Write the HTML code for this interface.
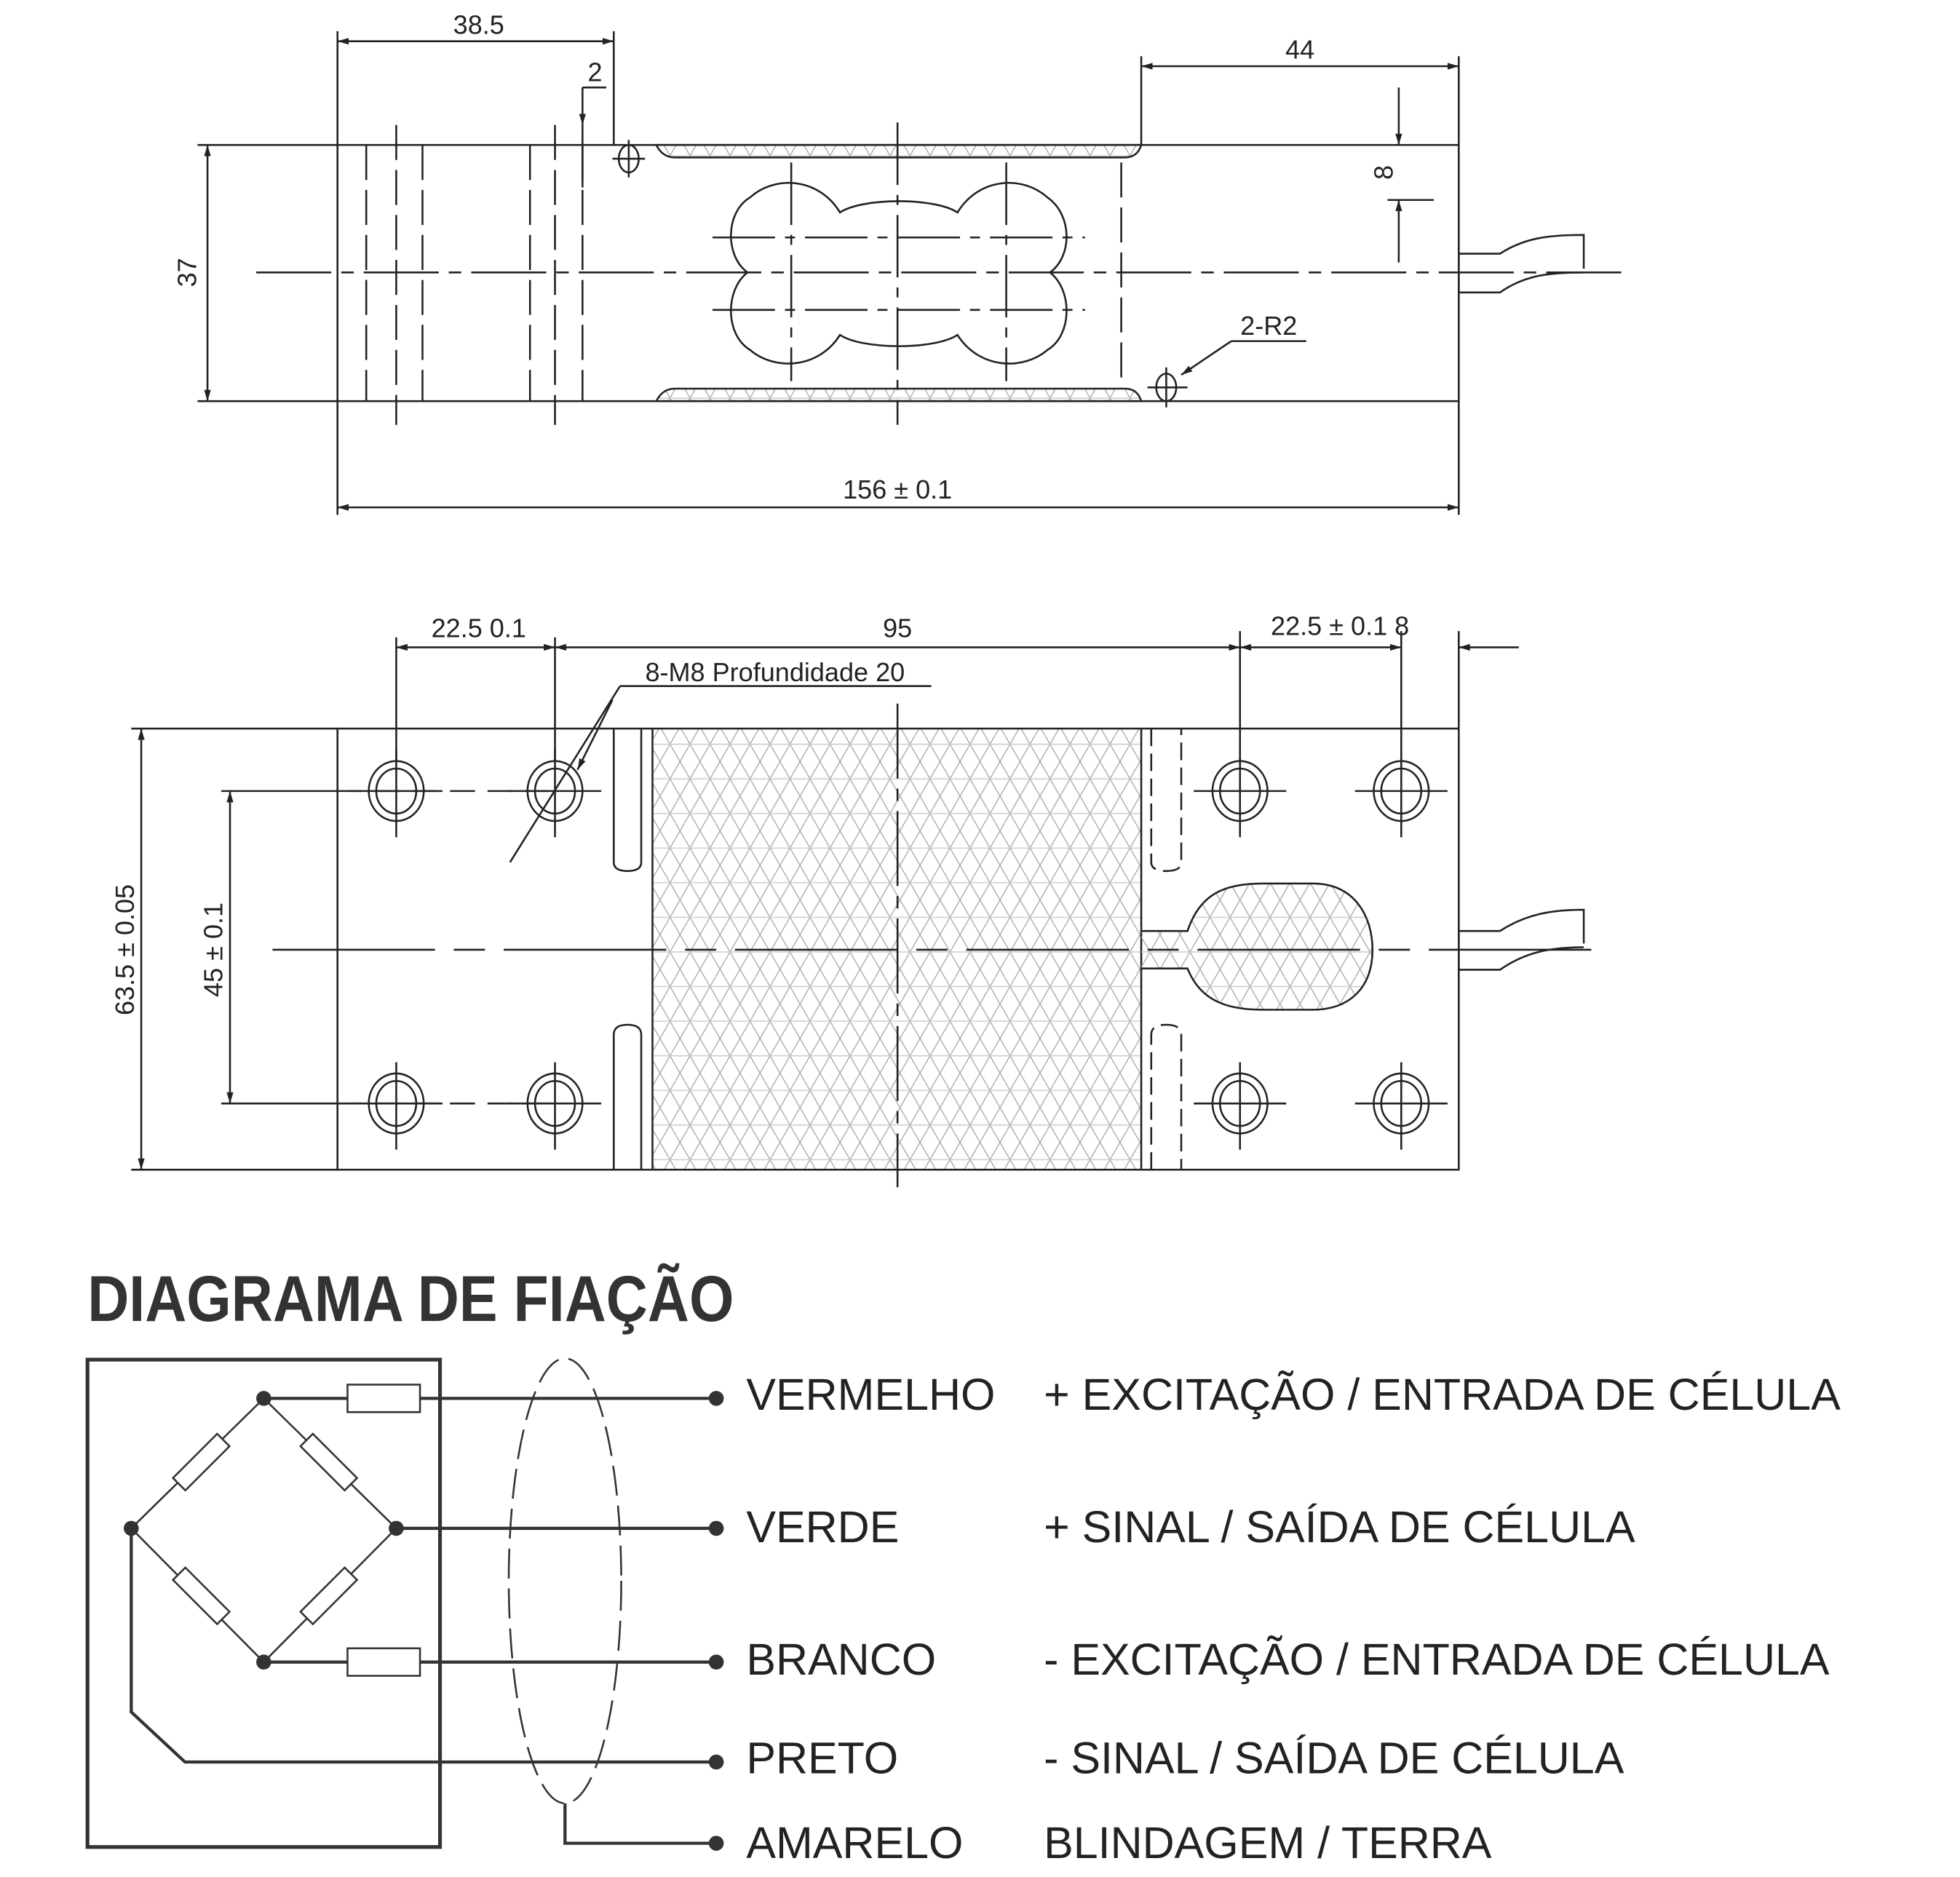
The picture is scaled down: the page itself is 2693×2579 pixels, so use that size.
<!DOCTYPE html>
<html><head><meta charset="utf-8"><style>
html,body{margin:0;padding:0;background:#fff;}
svg{display:block;}
text{font-family:"Liberation Sans",sans-serif;fill:#222;}
</style></head><body>
<svg width="2693" height="2579" viewBox="0 0 1568 1502" preserveAspectRatio="none" xmlns="http://www.w3.org/2000/svg">
<defs>
<marker id="ar" viewBox="0 0 10 10" refX="10" refY="5" markerWidth="9" markerHeight="9" orient="auto-start-reverse" markerUnits="userSpaceOnUse"><path d="M0,2 L10,5 L0,8 Z" fill="#222"/></marker>
<pattern id="hat" patternUnits="userSpaceOnUse" width="16" height="27.7">
<g stroke="#aaa" stroke-width="0.8" fill="none">
<line x1="0" y1="0" x2="16" y2="27.7"/><line x1="-8" y1="13.85" x2="8" y2="41.55"/><line x1="8" y1="-13.85" x2="24" y2="13.85"/>
<line x1="16" y1="0" x2="0" y2="27.7"/><line x1="24" y1="13.85" x2="8" y2="41.55"/><line x1="8" y1="-13.85" x2="-8" y2="13.85"/>
<line x1="0" y1="13.85" x2="16" y2="13.85" stroke="#ccc"/>
</g></pattern>
</defs>
<rect width="1568" height="1502" fill="#fff"/>
<g fill="none" stroke="#222" stroke-width="1.5">
<rect x="270" y="116" width="897" height="205"/>
<path d="M525,116 Q530,126 540,126 L900,126 Q910,126 913,116 Z" fill="url(#hat)"/>
<path d="M525,321 Q530,311 540,311 L900,311 Q910,311 913,321 Z" fill="url(#hat)"/>
<line x1="158" y1="116" x2="270" y2="116"/><line x1="158" y1="321" x2="270" y2="321"/>
<line x1="166" y1="116" x2="166" y2="321" marker-start="url(#ar)" marker-end="url(#ar)"/>
<line x1="270" y1="25" x2="270" y2="116"/><line x1="491" y1="25" x2="491" y2="116"/>
<line x1="270" y1="33" x2="491" y2="33" marker-start="url(#ar)" marker-end="url(#ar)"/>
<line x1="466" y1="70" x2="485" y2="70"/><line x1="466" y1="70" x2="466" y2="100" marker-end="url(#ar)"/><line x1="466" y1="100" x2="466" y2="150"/>
<line x1="913" y1="45" x2="913" y2="116"/><line x1="1167" y1="45" x2="1167" y2="116"/>
<line x1="913" y1="53" x2="1167" y2="53" marker-start="url(#ar)" marker-end="url(#ar)"/>
<line x1="1119" y1="70" x2="1119" y2="116" marker-end="url(#ar)"/>
<line x1="1119" y1="210" x2="1119" y2="160" marker-end="url(#ar)"/>
<line x1="1110" y1="160" x2="1147" y2="160"/>
<line x1="270" y1="321" x2="270" y2="412"/><line x1="1167" y1="321" x2="1167" y2="412"/>
<line x1="270" y1="406" x2="1167" y2="406" marker-start="url(#ar)" marker-end="url(#ar)"/>
<g stroke-dasharray="28,8">
<line x1="293" y1="116" x2="293" y2="321"/><line x1="317" y1="100" x2="317" y2="340"/><line x1="338" y1="116" x2="338" y2="321"/>
<line x1="424" y1="116" x2="424" y2="321"/><line x1="444" y1="100" x2="444" y2="340"/><line x1="466" y1="116" x2="466" y2="321"/>
<line x1="897" y1="130" x2="897" y2="310"/>
</g>
<line x1="205" y1="218" x2="1305" y2="218" stroke-dasharray="60,8,10,8"/>
<path d="M598,218 C580,205 580,170 600,158 C620,140 655,142 672,170 C690,158 748,158 766,170 C783,142 818,140 838,158 C858,172 858,205 840,218 C858,232 858,268 838,280 C818,297 783,295 766,268 C748,280 690,280 672,268 C655,295 620,297 600,280 C580,268 580,232 598,218 Z"/>
<g stroke-dasharray="50,8,8,8">
<line x1="570" y1="190" x2="868" y2="190"/><line x1="570" y1="248" x2="868" y2="248"/>
<line x1="633" y1="130" x2="633" y2="305"/><line x1="805" y1="130" x2="805" y2="305"/>
<line x1="718" y1="98" x2="718" y2="340"/>
</g>
<ellipse cx="503" cy="127" rx="8" ry="11"/><line x1="490" y1="127" x2="516" y2="127"/><line x1="503" y1="112" x2="503" y2="142"/>
<ellipse cx="933" cy="310" rx="8" ry="11"/><line x1="918" y1="310" x2="950" y2="310"/><line x1="933" y1="294" x2="933" y2="326"/>
<line x1="985" y1="273" x2="945" y2="300" marker-end="url(#ar)"/><line x1="985" y1="273" x2="1045" y2="273"/>
<path d="M1167,203 L1200,203 C1220,190 1240,188 1267,188 L1267,215 M1167,234 L1200,234 C1220,220 1240,218 1267,218 M1167,203 L1167,234"/>
<rect x="522" y="583" width="391" height="353" fill="url(#hat)" stroke="none"/>
<rect x="270" y="583" width="897" height="353"/>
<line x1="522" y1="583" x2="522" y2="936"/><line x1="913" y1="583" x2="913" y2="936"/>
<line x1="105" y1="583" x2="270" y2="583"/><line x1="105" y1="936" x2="270" y2="936"/>
<line x1="113" y1="583" x2="113" y2="936" marker-start="url(#ar)" marker-end="url(#ar)"/>
<line x1="177" y1="633" x2="270" y2="633"/><line x1="177" y1="883" x2="270" y2="883"/>
<line x1="184" y1="633" x2="184" y2="883" marker-start="url(#ar)" marker-end="url(#ar)"/>
<line x1="270" y1="633" x2="444" y2="633" stroke-dasharray="20,10"/>
<line x1="270" y1="883" x2="444" y2="883" stroke-dasharray="20,10"/>
<line x1="317" y1="510" x2="317" y2="610"/><line x1="444" y1="510" x2="444" y2="610"/>
<line x1="992" y1="505" x2="992" y2="610"/><line x1="1121" y1="505" x2="1121" y2="610"/><line x1="1167" y1="505" x2="1167" y2="583"/>
<line x1="317" y1="518" x2="444" y2="518" marker-start="url(#ar)" marker-end="url(#ar)"/>
<line x1="444" y1="518" x2="992" y2="518" marker-start="url(#ar)" marker-end="url(#ar)"/>
<line x1="992" y1="518" x2="1121" y2="518" marker-start="url(#ar)" marker-end="url(#ar)"/>
<line x1="1215" y1="518" x2="1167" y2="518" marker-end="url(#ar)"/>
<line x1="496" y1="549" x2="745" y2="549"/>
<line x1="496" y1="549" x2="408" y2="690"/>
<line x1="490" y1="560" x2="462" y2="616" marker-end="url(#ar)"/>
<path d="M491,583 L491,690 Q491,697 502,697 Q513,697 513,690 L513,583"/>
<path d="M491,936 L491,828 Q491,820 502,820 Q513,820 513,828 L513,936"/>
<g stroke-dasharray="14,6">
<path d="M921,583 L921,690 Q921,697 933,697 Q945,697 945,690 L945,583"/>
<path d="M921,936 L921,828 Q921,820 933,820 Q945,820 945,828 L945,936"/>
</g>
<path d="M913,745 L950,745 C960,715 980,707 1010,707 L1050,707 C1085,707 1098,735 1098,760 C1098,790 1080,808 1050,808 L1010,808 C980,808 960,800 950,775 L913,775" fill="url(#hat)"/>
<line x1="218" y1="760" x2="1283" y2="760" stroke-dasharray="130,15,25,15"/>
<line x1="718" y1="563" x2="718" y2="950" stroke-dasharray="60,8,10,8"/>
<path d="M1167,745 L1200,745 C1220,732 1240,728 1267,728 L1267,755 M1167,776 L1200,776 C1220,762 1240,758 1267,758 M1167,745 L1167,776"/>
<g>
<ellipse cx="317" cy="633" rx="22" ry="24"/><ellipse cx="317" cy="633" rx="16" ry="18"/>
<ellipse cx="444" cy="633" rx="22" ry="24"/><ellipse cx="444" cy="633" rx="16" ry="18"/>
<ellipse cx="992" cy="633" rx="22" ry="24"/><ellipse cx="992" cy="633" rx="16" ry="18"/>
<ellipse cx="1121" cy="633" rx="22" ry="24"/><ellipse cx="1121" cy="633" rx="16" ry="18"/>
<ellipse cx="317" cy="883" rx="22" ry="24"/><ellipse cx="317" cy="883" rx="16" ry="18"/>
<ellipse cx="444" cy="883" rx="22" ry="24"/><ellipse cx="444" cy="883" rx="16" ry="18"/>
<ellipse cx="992" cy="883" rx="22" ry="24"/><ellipse cx="992" cy="883" rx="16" ry="18"/>
<ellipse cx="1121" cy="883" rx="22" ry="24"/><ellipse cx="1121" cy="883" rx="16" ry="18"/>
</g>
<path d="M280,633 H354 M317,600 V670 M407,633 H481 M444,600 V670 M955,633 H1029 M992,600 V670 M1084,633 H1158 M1121,600 V670"/>
<path d="M280,883 H354 M317,850 V920 M407,883 H481 M444,850 V920 M955,883 H1029 M992,850 V920 M1084,883 H1158 M1121,850 V920"/>
</g>
<g font-size="21">
<text x="383" y="27" text-anchor="middle">38.5</text>
<text x="476" y="65" text-anchor="middle">2</text>
<text x="1040" y="47" text-anchor="middle">44</text>
<text transform="translate(1114,138) rotate(-90)" text-anchor="middle">8</text>
<text transform="translate(157,218) rotate(-90)" text-anchor="middle">37</text>
<text x="1015" y="268" text-anchor="middle">2-R2</text>
<text x="718" y="399" text-anchor="middle">156 ± 0.1</text>
<text x="383" y="510" text-anchor="middle">22.5  0.1</text>
<text x="718" y="510" text-anchor="middle">95</text>
<text x="1072" y="508" text-anchor="middle">22.5 ± 0.1  8</text>
<text x="620" y="545" text-anchor="middle">8-M8 Profundidade 20</text>
<text transform="translate(107,760) rotate(-90)" text-anchor="middle">63.5 ± 0.05</text>
<text transform="translate(178,760) rotate(-90)" text-anchor="middle">45 ± 0.1</text>
</g>
<text x="70" y="1057" font-size="52" font-weight="bold" transform="translate(70,0) scale(0.885,1) translate(-70,0)" style="fill:#333">DIAGRAMA DE FIAÇÃO</text>
<g fill="none" stroke="#333" stroke-width="1.5">
<rect x="70" y="1088" width="282" height="390" stroke-width="3"/>
<path d="M211,1119 L105,1223 L211,1330 L317,1223 Z"/>
<g transform="rotate(-45 161 1170)"><rect x="136" y="1163" width="50" height="14" fill="#fff"/></g>
<g transform="rotate(45 263 1170)"><rect x="238" y="1163" width="50" height="14" fill="#fff"/></g>
<g transform="rotate(45 161 1277)"><rect x="136" y="1270" width="50" height="14" fill="#fff"/></g>
<g transform="rotate(-45 263 1277)"><rect x="238" y="1270" width="50" height="14" fill="#fff"/></g>
<g stroke-width="2.5">
<line x1="211" y1="1119" x2="573" y2="1119"/>
<line x1="317" y1="1223" x2="573" y2="1223"/>
<line x1="211" y1="1330" x2="573" y2="1330"/>
<path d="M105,1223 L105,1370 L148,1410 L573,1410"/>
<path d="M452,1443 L452,1475 L573,1475"/>
</g>
<rect x="278" y="1108" width="58" height="22" fill="#fff"/>
<rect x="278" y="1319" width="58" height="22" fill="#fff"/>
<ellipse cx="452" cy="1265" rx="45" ry="178" stroke-dasharray="24,8"/>
</g>
<g fill="#333">
<circle cx="211" cy="1119" r="6"/><circle cx="105" cy="1223" r="6"/><circle cx="317" cy="1223" r="6"/><circle cx="211" cy="1330" r="6"/>
<circle cx="573" cy="1119" r="6"/><circle cx="573" cy="1223" r="6"/><circle cx="573" cy="1330" r="6"/><circle cx="573" cy="1410" r="6"/><circle cx="573" cy="1475" r="6"/>
</g>
<g font-size="35.5" style="fill:#333">
<text x="597" y="1128">VERMELHO</text><text x="835" y="1128">+ EXCITAÇÃO / ENTRADA DE CÉLULA</text>
<text x="597" y="1234">VERDE</text><text x="835" y="1234">+ SINAL / SAÍDA DE CÉLULA</text>
<text x="597" y="1340">BRANCO</text><text x="835" y="1340">- EXCITAÇÃO / ENTRADA DE CÉLULA</text>
<text x="597" y="1419">PRETO</text><text x="835" y="1419">- SINAL / SAÍDA DE CÉLULA</text>
<text x="597" y="1487">AMARELO</text><text x="835" y="1487">BLINDAGEM / TERRA</text>
</g>
</svg>
</body></html>
